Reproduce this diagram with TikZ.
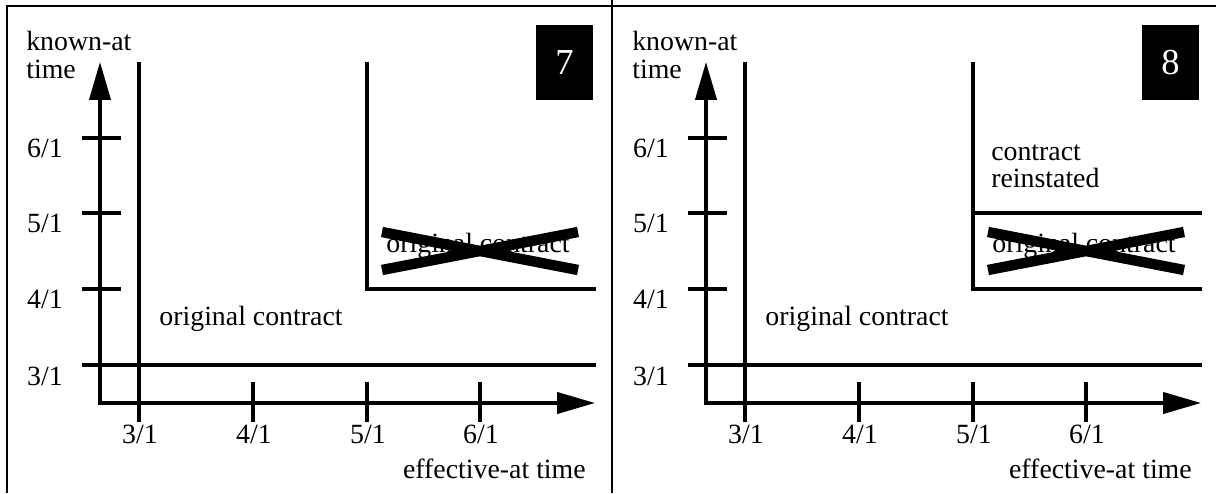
\documentclass[tikz,border=0pt]{standalone}
\usepackage{fontspec}
\setmainfont{Liberation Serif}
\usepackage{tikz}
\usetikzlibrary{arrows.meta}

\begin{document}
\begin{tikzpicture}[
    font=\fontsize{19.8pt}{19.8pt}\selectfont,
    frame/.style={line width=1.3pt},
    axis/.style={line width=2.5pt, {Triangle[length=0.95cm, width=0.53cm]}-{Triangle[length=0.95cm, width=0.53cm]}},
    period/.style={line width=2.5pt},
    crossbar/.style={line width=7.4pt},
    datelabel/.style={inner sep=0pt, anchor=base},
    axistitle/.style={inner sep=0pt, anchor=north west, align=left},
    numbox/.style={fill=black, text=white, inner sep=0pt, minimum width=1.425cm, minimum height=1.875cm, font=\fontsize{26pt}{26pt}\selectfont}
]
    \useasboundingbox (0,0) rectangle (30.4,12.325);

    % Frame around both panels
    \draw[frame] (0.175,0) -- (0.175,12.175) -- (30.4,12.175);
    \draw[frame] (15.3,0) -- (15.3,12.325);

    % LEFT: contract cancelled
    \begin{scope}[xshift=0cm]
    \draw[axis] (2.5,10.775) -- (2.5,2.25) -- (14.875,2.25);
    \node[axistitle] (katA) at (0.65,11.55) {known-at\\time};
    \node[datelabel, anchor=base east] (effA) at (14.65,0.375) {effective-at time};

    % ticks and dates on the known-at axis
    \foreach \y/\d in {8.875/6, 7.0/5, 5.1/4} {
        \draw[period] (2.05,\y) -- (3.025,\y);
        \node[datelabel] at (1.125,\y-0.5) {\d/1};
    }
    \node[datelabel] (kthreeA) at (1.125,2.7) {3/1};

    % ticks and dates on the effective-at axis
    \foreach \x/\d in {6.325/4, 9.175/5, 12.0/6} {
        \draw[period] (\x,2.775) -- (\x,1.775);
        \node[datelabel] at (\x+0.025,1.25) {\d/1};
    }
    \node[datelabel] (ethreeA) at (3.5,1.25) {3/1};

    % original contract region
    \draw[period] (2.05,3.2) -- (14.9,3.2);
    \draw[period] (3.475,10.775) -- (3.475,1.775);
    \node[datelabel] (origA) at (6.275,4.175) {original contract};

    % cancelled part
    \draw[period] (9.175,10.775) -- (9.175,5.1) -- (14.9,5.1);
    \node[datelabel] (cancA) at (11.95,6.0) {original contract};
    \draw[crossbar] (9.55,6.525) -- (14.45,5.575);
    \draw[crossbar] (9.55,5.575) -- (14.45,6.525);

    \node[numbox] (numA) at (14.1125,10.7625) {7};
    \end{scope}

    % RIGHT: contract reinstated
    \begin{scope}[xshift=15.15cm]
    \draw[axis] (2.5,10.775) -- (2.5,2.25) -- (14.875,2.25);
    \node[axistitle] (katB) at (0.65,11.55) {known-at\\time};
    \node[datelabel, anchor=base east] (effB) at (14.65,0.375) {effective-at time};

    % ticks and dates on the known-at axis
    \foreach \y/\d in {8.875/6, 7.0/5, 5.1/4} {
        \draw[period] (2.05,\y) -- (3.025,\y);
        \node[datelabel] at (1.125,\y-0.5) {\d/1};
    }
    \node[datelabel] (kthreeB) at (1.125,2.7) {3/1};

    % ticks and dates on the effective-at axis
    \foreach \x/\d in {6.325/4, 9.175/5, 12.0/6} {
        \draw[period] (\x,2.775) -- (\x,1.775);
        \node[datelabel] at (\x+0.025,1.25) {\d/1};
    }
    \node[datelabel] (ethreeB) at (3.5,1.25) {3/1};

    % original contract region
    \draw[period] (2.05,3.2) -- (14.9,3.2);
    \draw[period] (3.475,10.775) -- (3.475,1.775);
    \node[datelabel] (origB) at (6.275,4.175) {original contract};

    % cancelled part, then reinstated above
    \draw[period] (9.175,10.775) -- (9.175,5.1) -- (14.9,5.1);
    \draw[period] (9.175,7.0) -- (14.9,7.0);
    \node[datelabel] (cancB) at (11.95,6.0) {original contract};
    \draw[crossbar] (9.55,6.525) -- (14.45,5.575);
    \draw[crossbar] (9.55,5.575) -- (14.45,6.525);
    \node[axistitle] (reinB) at (9.625,8.72) {contract\\reinstated};

    \node[numbox] (numB) at (14.1125,10.7625) {8};
    \end{scope}
\end{tikzpicture}
\end{document}
